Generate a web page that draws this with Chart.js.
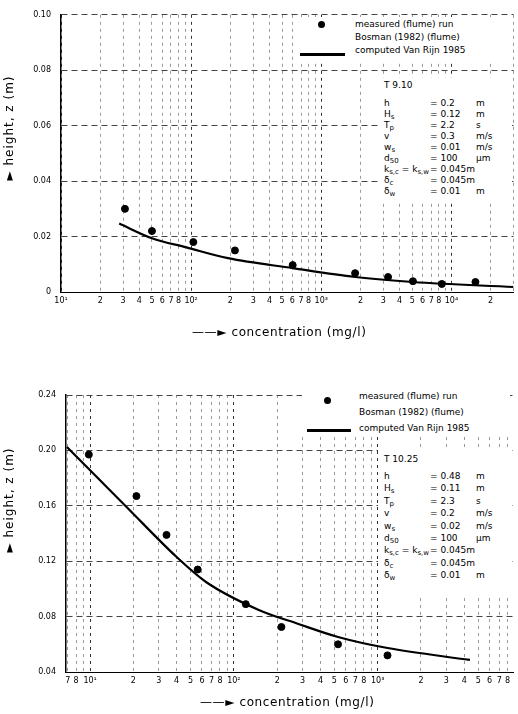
<!DOCTYPE html>
<html>
<head>
<meta charset="utf-8">
<script src="https://cdn.jsdelivr.net/npm/chart.js@4.4.1/dist/chart.umd.min.js"></script>
<style>
body{margin:0;background:#fff;font-family:"DejaVu Sans",sans-serif;color:#000}
#page{position:relative;width:518px;height:714px;overflow:hidden;background:#fff}
canvas{position:absolute;left:0}
.box{position:absolute;background:#fff}
.ytitle{position:absolute;font-size:12px;letter-spacing:1px;white-space:nowrap;transform:translate(-50%,-50%) rotate(-90deg)}
.xtitle{position:absolute;font-size:12px;letter-spacing:0.6px;white-space:nowrap}
.leg{position:absolute;font-size:9px;line-height:13px;white-space:nowrap}
.dot{position:absolute;width:7px;height:7px;border-radius:50%;background:#000}
.lin{position:absolute;height:2.5px;background:#000}
.par{position:absolute;font-size:9px;white-space:nowrap}
.par div{position:relative;height:11px;line-height:11px}
.par span{position:absolute;top:0}
sub{font-size:7px;vertical-align:-2px;line-height:0}
</style>
</head>
<body>
<div id="page">
<canvas id="topChart" width="518" height="345" style="top:0"></canvas>
<canvas id="bottomChart" width="518" height="369" style="top:345px"></canvas>

<!-- top chart texts -->
<div class="ytitle" style="left:9px;top:128px">&#9658; height, z (m)</div>
<div class="xtitle" style="left:192px;top:325px">&mdash;&mdash;&#9658; concentration (mg/l)</div>
<div class="box" style="left:296px;top:17px;width:214px;height:44px"></div>
<div class="dot" style="left:318px;top:21px"></div>
<div class="lin" style="left:300px;top:53px;width:45px"></div>
<div class="leg" style="left:355px;top:18px">measured (flume) run<br>Bosman (1982) (flume)<br>computed Van Rijn 1985</div>
<div class="box" style="left:378px;top:78px;width:134px;height:122px"></div>
<div class="par" style="left:384px;top:80px;width:128px">
  <div><span style="left:0">T 9.10</span></div>
  <div style="height:7px"></div>
  <div><span>h</span><span style="left:46px">= 0.2</span><span style="left:92px">m</span></div>
  <div><span>H<sub>s</sub></span><span style="left:46px">= 0.12</span><span style="left:92px">m</span></div>
  <div><span>T<sub>p</sub></span><span style="left:46px">= 2.2</span><span style="left:92px">s</span></div>
  <div><span>v</span><span style="left:46px">= 0.3</span><span style="left:92px">m/s</span></div>
  <div><span>w<sub>s</sub></span><span style="left:46px">= 0.01</span><span style="left:92px">m/s</span></div>
  <div><span>d<sub>50</sub></span><span style="left:46px">= 100</span><span style="left:92px">&micro;m</span></div>
  <div><span>k<sub>s,c</sub> = k<sub>s,w</sub></span><span style="left:46px">= 0.045m</span></div>
  <div><span>&delta;<sub>c</sub></span><span style="left:46px">= 0.045m</span></div>
  <div><span>&delta;<sub>w</sub></span><span style="left:46px">= 0.01</span><span style="left:92px">m</span></div>
</div>

<!-- bottom chart texts -->
<div class="ytitle" style="left:9px;top:500px">&#9658; height, z (m)</div>
<div class="xtitle" style="left:200px;top:695px">&mdash;&mdash;&#9658; concentration (mg/l)</div>
<div class="box" style="left:302px;top:386px;width:208px;height:50px"></div>
<div class="dot" style="left:324px;top:397px"></div>
<div class="lin" style="left:307px;top:429px;width:44px"></div>
<div class="leg" style="left:359px;top:388px;line-height:16px">measured (flume) run<br>Bosman (1982) (flume)<br>computed Van Rijn 1985</div>
<div class="box" style="left:378px;top:448px;width:134px;height:148px"></div>
<div class="par" style="left:384px;top:454px;width:128px">
  <div><span style="left:0">T 10.25</span></div>
  <div style="height:6px"></div>
  <div style="height:12.4px"><span>h</span><span style="left:46px">= 0.48</span><span style="left:92px">m</span></div>
  <div style="height:12.4px"><span>H<sub>s</sub></span><span style="left:46px">= 0.11</span><span style="left:92px">m</span></div>
  <div style="height:12.4px"><span>T<sub>p</sub></span><span style="left:46px">= 2.3</span><span style="left:92px">s</span></div>
  <div style="height:12.4px"><span>v</span><span style="left:46px">= 0.2</span><span style="left:92px">m/s</span></div>
  <div style="height:12.4px"><span>w<sub>s</sub></span><span style="left:46px">= 0.02</span><span style="left:92px">m/s</span></div>
  <div style="height:12.4px"><span>d<sub>50</sub></span><span style="left:46px">= 100</span><span style="left:92px">&micro;m</span></div>
  <div style="height:12.4px"><span>k<sub>s,c</sub> = k<sub>s,w</sub></span><span style="left:46px">= 0.045m</span></div>
  <div style="height:12.4px"><span>&delta;<sub>c</sub></span><span style="left:46px">= 0.045m</span></div>
  <div style="height:12.4px"><span>&delta;<sub>w</sub></span><span style="left:46px">= 0.01</span><span style="left:92px">m</span></div>
</div>
</div>

<script>
// upper panel (test T 9.10)
const topConc = [31, 50, 104, 217, 603, 1820, 3260, 5060, 8440, 15300];
const topHeight = [0.030, 0.022, 0.018, 0.015, 0.0097, 0.0068, 0.0054, 0.0039, 0.0029, 0.0036];
const topCalcConc = [28, 50, 92, 192, 603, 1820, 5060, 30000];
const topCalcHeight = [0.0247, 0.0194, 0.0161, 0.0122, 0.0086, 0.0054, 0.0036, 0.0018];
const topYTicks = [0, 0.02, 0.04, 0.06, 0.08, 0.10];

// lower panel (test T 10.25)
const bottomConc = [9.8, 21, 34, 56, 121, 214, 530, 1170];
const bottomHeight = [0.197, 0.167, 0.139, 0.114, 0.089, 0.0725, 0.060, 0.052];
const bottomCalcConc = [6.9, 18, 40, 64, 149, 281, 530, 1170, 4380];
const bottomCalcHeight = [0.2025, 0.159, 0.123, 0.105, 0.0848, 0.0747, 0.0653, 0.0573, 0.0487];
const bottomYTicks = [0.04, 0.08, 0.12, 0.16, 0.20, 0.24];

// 1..9 in every decade
const mantissas = [1, 2, 3, 4, 5, 6, 7, 8, 9];
const supers = {1:'\u00b9', 2:'\u00b2', 3:'\u00b3', 4:'\u2074'};

function logTicks(min, max){
  let out = [];
  for(let e = 0; e <= 5; e++){
    mantissas.forEach(m => {
      let v = m * Math.pow(10, e);
      if(v >= min && v <= max) out.push({value: v});
    });
  }
  return out;
}

function xLabel(v, xmax){
  if(v >= xmax * 0.98) return '';
  let e = Math.floor(Math.log10(v) + 1e-9);
  let m = Math.round(v / Math.pow(10, e));
  if(m == 1) return '10' + supers[e];
  if(m == 9) return '';
  return '' + m;
}

function makeChart(id, conc, height, calcConc, calcHeight, yTicks, xmin, xmax, yAxisW, padTop, xAxisH){
  const ctx = document.getElementById(id).getContext('2d');
  new Chart(ctx, {
    type: 'scatter',
    data: {
      datasets: [{
        label: 'measured',
        data: conc.map((c, i) => ({x: c, y: height[i]})),
        backgroundColor: '#000',
        borderColor: '#000',
        pointRadius: 3.5,
        pointHoverRadius: 3.5
      }, {
        label: 'computed',
        data: calcConc.map((c, i) => ({x: c, y: calcHeight[i]})),
        showLine: true,
        borderColor: '#000',
        borderWidth: 2.2,
        pointRadius: 0,
        cubicInterpolationMode: 'monotone'
      }]
    },
    options: {
      responsive: false,
      animation: false,
      layout: {padding: {top: padTop, right: 1, left: 0, bottom: 0}},
      plugins: {legend: {display: false}, tooltip: {enabled: false}},
      scales: {
        x: {
          type: 'logarithmic',
          min: xmin,
          max: xmax,
          afterBuildTicks: s => { s.ticks = logTicks(xmin, xmax); },
          afterFit: s => { s.height = xAxisH; },
          ticks: {
            autoSkip: false,
            maxRotation: 0,
            padding: 4,
            color: '#000',
            font: {family: 'DejaVu Sans', size: 8},
            callback: v => xLabel(v, xmax)
          },
          grid: {
            drawTicks: false,
            color: c => {
              let v = c.tick ? c.tick.value : 1;
              let m = Math.round(v / Math.pow(10, Math.floor(Math.log10(v) + 1e-9)));
              return m == 1 ? '#333' : '#999';
            },
            lineWidth: 1
          },
          border: {display: true, color: '#000', width: 1, dash: [3, 4]}
        },
        y: {
          min: yTicks[0],
          max: yTicks[yTicks.length - 1],
          afterBuildTicks: s => { s.ticks = yTicks.map(v => ({value: v})); },
          afterFit: s => { s.width = yAxisW; },
          ticks: {
            padding: 10,
            color: '#000',
            font: {family: 'DejaVu Sans', size: 8},
            callback: v => v == 0 ? '0' : v.toFixed(2)
          },
          grid: {drawTicks: false, color: '#444', lineWidth: 1},
          border: {display: true, color: '#000', width: 1.5, dash: [6, 4]}
        }
      }
    }
  });
}

makeChart('topChart', topConc, topHeight, topCalcConc, topCalcHeight, topYTicks, 10, 30000, 61, 13, 53);
makeChart('bottomChart', bottomConc, bottomHeight, bottomCalcConc, bottomCalcHeight, bottomYTicks, 6.8, 8800, 66, 50, 42);
</script>
</body>
</html>
